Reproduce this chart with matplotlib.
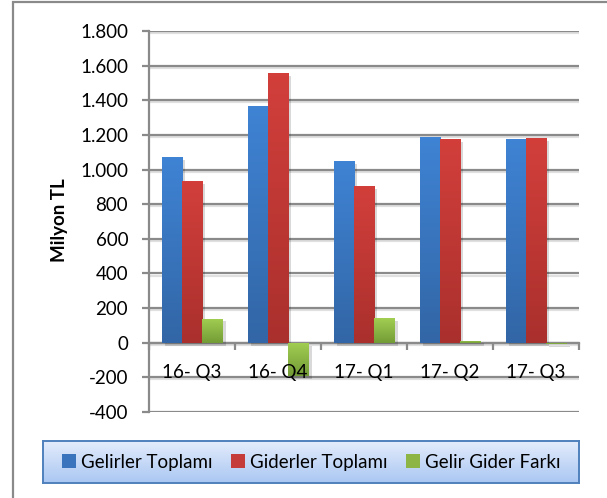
import matplotlib
matplotlib.use('Agg')
import matplotlib.pyplot as plt
import numpy as np
from matplotlib import patheffects as pe
from matplotlib.colors import LinearSegmentedColormap
from matplotlib.patches import Rectangle, Patch

plt.rcParams['font.family'] = ['Lato', 'DejaVu Sans']

quarters = ['16- Q3', '16- Q4', '17- Q1', '17- Q2', '17- Q3']
gelirler = [1071, 1366, 1048, 1187, 1175]
giderler = [932, 1557, 904, 1175, 1181]
fark = [139, -193, 144, 12, -6]
series = ['Gelirler Toplamı', 'Giderler Toplamı', 'Gelir Gider Farkı']
yticks = np.arange(-400, 1801, 200)
ylabels = [f'{v:,}'.replace(',', '.') for v in yticks]

# top / bottom gradient colours per series
grads = [('#3f83d4', '#3266a6'), ('#d23f3b', '#aa302d'), ('#a2ce52', '#739c36')]
mids = ['#3a74bd', '#c43b3a', '#8cb545']
grey = '#8a8a8a'

fig = plt.figure(figsize=(6.07, 4.98), dpi=100)
ax = fig.add_axes([149 / 607, 1 - 412 / 498, 430 / 607, 381 / 498])

x = np.arange(len(quarters))
w = 0.233
shadow = [pe.SimplePatchShadow(offset=(2.5, -2), alpha=0.15, shadow_rgbFace='k'), pe.Normal()]


def grad_fill(patch, top, bottom):
    x0, y0 = patch.get_x(), patch.get_y()
    pw, ph = patch.get_width(), patch.get_height()
    lo, hi = min(y0, y0 + ph), max(y0, y0 + ph)
    cmap = LinearSegmentedColormap.from_list('g', [bottom, top])
    img = ax.imshow(np.linspace(0, 1, 64).reshape(-1, 1), cmap=cmap,
                    extent=[x0, x0 + pw, lo, hi], origin='lower',
                    aspect='auto', zorder=3.1, interpolation='bilinear')
    img.set_clip_path(patch)


for i, vals in enumerate([gelirler, giderler, fark]):
    bars = ax.bar(x + (i - 1) * w, vals, w, color=mids[i], zorder=3,
                  path_effects=shadow, linewidth=0)
    for b in bars:
        grad_fill(b, *grads[i])

ax.set_xlim(-0.5, len(quarters) - 0.5)
ax.set_ylim(-400, 1800)
ax.set_yticks(yticks)
ax.set_yticklabels(ylabels)
ax.yaxis.grid(True, color=grey, linewidth=1.6, zorder=1,
              path_effects=[pe.SimpleLineShadow(offset=(0, -1.5), alpha=0.12), pe.Normal()])
ax.set_axisbelow(True)
ax.xaxis.set_zorder(5)

for s in ['top', 'right']:
    ax.spines[s].set_visible(False)
ax.spines['left'].set_color(grey)
ax.spines['left'].set_linewidth(1.6)
ax.spines['bottom'].set_position(('data', 0))
ax.spines['bottom'].set_color(grey)
ax.spines['bottom'].set_linewidth(1.6)
ax.spines['bottom'].set_zorder(2)

ax.set_xticks(x)
ax.set_xticklabels(quarters)
ax.set_xticks(np.arange(-0.5, len(quarters)), minor=True)
ax.tick_params(axis='x', which='major', length=0, pad=15, labelsize=13.5)
ax.tick_params(axis='x', which='minor', length=5, width=1.6, color=grey, direction='out')
ax.tick_params(axis='y', length=5, width=1.6, color=grey, labelsize=13.5, pad=10)

fig.text(60 / 607, 1 - 220 / 498, 'Milyon TL', rotation=90, fontsize=13.5,
         fontweight='bold', ha='center', va='center')

# outer chart border (right/bottom edges fall outside the image)
fig.patches.append(Rectangle((13 / 607, -0.1), 1.2, 1.1 - 2 / 498, transform=fig.transFigure,
                             fill=False, edgecolor=grey, linewidth=1.6))

# legend box with light blue gradient
lax = fig.add_axes([43 / 607, 1 - 483 / 498, 536 / 607, 42 / 498])
lcmap = LinearSegmentedColormap.from_list('lg', ['#aac7f3', '#e3ecfb'])
lax.imshow(np.linspace(0, 1, 64).reshape(-1, 1), cmap=lcmap, extent=[0, 1, 0, 1],
           origin='lower', aspect='auto')
lax.set_xticks([])
lax.set_yticks([])
for s in lax.spines.values():
    s.set_color('#4f81bd')
    s.set_linewidth(1.4)
handles = [Patch(facecolor=c, edgecolor='none') for c in mids]
lax.legend(handles, series, loc='center', ncol=3, frameon=False, fontsize=13.5,
           handlelength=0.75, handleheight=0.75, handletextpad=0.25, columnspacing=1.0)

fig.savefig('out.png', dpi=100)
